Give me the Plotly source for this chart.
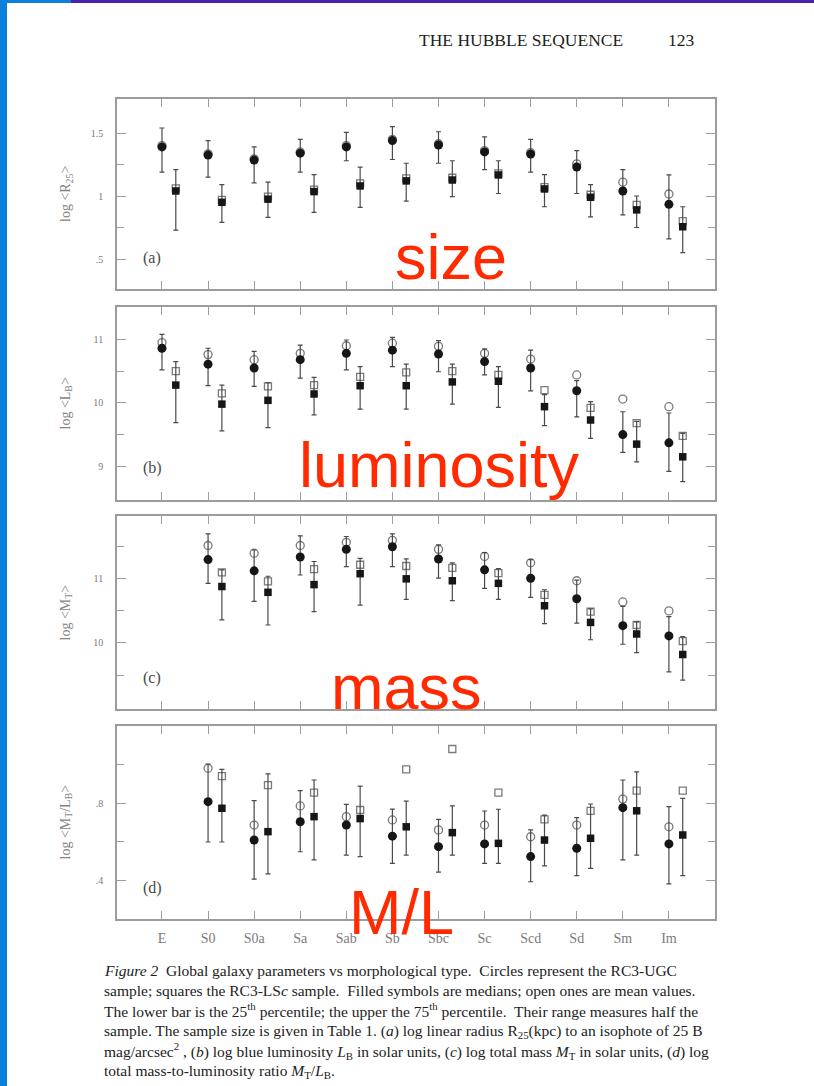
import numpy as np
import plotly.graph_objects as go
from plotly.subplots import make_subplots

# Morphological types along the x axis
types = ["E", "S0", "S0a", "Sa", "Sab", "Sb", "Sbc", "Sc", "Scd", "Sd", "Sm", "Im"]

# (a) log <R25>  -- circles: RC3-UGC, squares: RC3-LSc
a_med_c = [1.39, 1.325, 1.285, 1.34, 1.39, 1.44, 1.405, 1.35, 1.333, 1.23, 1.04, 0.934]
a_mean_c = [1.40, 1.335, 1.295, 1.35, 1.40, 1.45, 1.415, 1.36, 1.345, 1.255, 1.11, 1.016]
a_hi_c = [1.54, 1.44, 1.39, 1.45, 1.505, 1.55, 1.51, 1.47, 1.45, 1.36, 1.21, 1.167]
a_lo_c = [1.19, 1.15, 1.105, 1.19, 1.28, 1.29, 1.26, 1.21, 1.19, 1.02, 0.85, 0.66]
a_med_s = [1.04, 0.95, 0.975, 1.035, 1.08, 1.12, 1.127, 1.167, 1.056, 0.99, 0.89, 0.756]
a_mean_s = [1.06, 0.97, 0.995, 1.05, 1.10, 1.14, 1.145, 1.18, 1.07, 1.01, 0.93, 0.80]
a_hi_s = [1.21, 1.09, 1.11, 1.17, 1.23, 1.26, 1.28, 1.28, 1.17, 1.09, 1.00, 0.915]
a_lo_s = [0.73, 0.79, 0.83, 0.87, 0.91, 0.96, 0.995, 1.02, 0.915, 0.835, 0.75, 0.55]

# (b) log <L_B>
b_med_c = [10.86, 10.61, 10.55, 10.68, 10.78, 10.83, 10.77, 10.65, 10.55, 10.19, 9.50, 9.37]
b_mean_c = [10.95, 10.76, 10.68, 10.78, 10.90, 10.94, 10.89, 10.78, 10.69, 10.44, 10.06, 9.94]
b_hi_c = [11.08, 10.86, 10.81, 10.91, 10.99, 11.03, 10.98, 10.85, 10.83, 10.35, 9.86, 9.84]
b_lo_c = [10.52, 10.27, 10.26, 10.39, 10.52, 10.57, 10.49, 10.44, 10.19, 9.78, 9.22, 8.92]
b_med_s = [10.28, 9.98, 10.04, 10.14, 10.27, 10.27, 10.33, 10.34, 9.94, 9.73, 9.35, 9.15]
b_mean_s = [10.50, 10.15, 10.26, 10.28, 10.41, 10.48, 10.50, 10.44, 10.20, 9.92, 9.68, 9.48]
b_hi_s = [10.65, 10.28, 10.32, 10.40, 10.57, 10.61, 10.61, 10.57, 10.13, 10.02, 9.71, 9.52]
b_lo_s = [9.69, 9.56, 9.61, 9.81, 9.90, 9.90, 9.98, 9.93, 9.64, 9.44, 9.07, 8.76]

# (c) log <M_T>
c_med_c = [None, 11.30, 11.125, 11.34, 11.46, 11.50, 11.31, 11.14, 11.01, 10.69, 10.27, 10.11]
c_mean_c = [None, 11.52, 11.40, 11.52, 11.57, 11.60, 11.46, 11.35, 11.25, 10.97, 10.64, 10.50]
c_hi_c = [None, 11.70, 11.45, 11.67, 11.66, 11.70, 11.53, 11.41, 11.30, 10.98, 10.57, 10.41]
c_lo_c = [None, 10.93, 10.65, 11.06, 11.19, 11.19, 11.01, 10.85, 10.71, 10.31, 9.98, 9.55]
c_med_s = [None, 10.88, 10.79, 10.91, 11.08, 11.00, 10.97, 10.93, 10.58, 10.32, 10.14, 9.82]
c_mean_s = [None, 11.10, 10.96, 11.15, 11.22, 11.20, 11.17, 11.09, 10.75, 10.49, 10.28, 10.03]
c_hi_s = [None, 11.14, 11.04, 11.27, 11.32, 11.31, 11.25, 11.16, 10.83, 10.53, 10.33, 10.10]
c_lo_s = [None, 10.36, 10.28, 10.49, 10.59, 10.68, 10.66, 10.68, 10.30, 10.05, 9.85, 9.42]

# (d) log <M_T/L_B>
d_med_c = [None, 0.807, 0.61, 0.704, 0.687, 0.63, 0.576, 0.59, 0.525, 0.568, 0.776, 0.59]
d_mean_c = [None, 0.978, 0.687, 0.785, 0.73, 0.713, 0.662, 0.687, 0.627, 0.687, 0.82, 0.678]
d_hi_c = [None, 1.0, 0.812, 0.863, 0.793, 0.769, 0.716, 0.759, 0.662, 0.725, 0.918, 0.781]
d_lo_c = [None, 0.60, 0.41, 0.55, 0.533, 0.49, 0.445, 0.49, 0.396, 0.427, 0.508, 0.385]
d_med_s = [None, 0.773, 0.653, 0.73, 0.72, 0.678, 0.648, 0.593, 0.61, 0.619, 0.76, 0.636]
d_mean_s = [None, 0.938, 0.892, 0.853, 0.764, 0.973, 1.077, 0.853, 0.716, 0.76, 0.863, 0.863]
d_hi_s = [None, 0.973, 0.949, 0.918, 0.887, 0.81, 0.785, 0.768, 0.738, 0.795, 0.96, 0.824]
d_lo_s = [None, 0.60, 0.436, 0.508, 0.525, 0.533, 0.533, 0.49, 0.478, 0.465, 0.533, 0.427]

# Y-axis tick values / labels per panel
a_ticks, a_ticktext = [0.5, 1, 1.5], [".5", "1", "1.5"]
b_ticks, b_ticktext = [9, 10, 11], ["9", "10", "11"]
c_ticks, c_ticktext = [10, 11], ["10", "11"]
d_ticks, d_ticktext = [0.4, 0.8], [".4", ".8"]

W, H = 814, 1086


def fx(px):
    return px / W


def fy(py):
    return 1 - py / H


panels = [
    dict(med_c=a_med_c, mean_c=a_mean_c, hi_c=a_hi_c, lo_c=a_lo_c,
         med_s=a_med_s, mean_s=a_mean_s, hi_s=a_hi_s, lo_s=a_lo_s,
         ticks=a_ticks, ticktext=a_ticktext, minor=[0.75, 1.25],
         yrange=[0.262, 1.77], top=99, bottom=289,
         title="log &lt;R<sub>25</sub>&gt;", tag="(a)"),
    dict(med_c=b_med_c, mean_c=b_mean_c, hi_c=b_hi_c, lo_c=b_lo_c,
         med_s=b_med_s, mean_s=b_mean_s, hi_s=b_hi_s, lo_s=b_lo_s,
         ticks=b_ticks, ticktext=b_ticktext, minor=[9.5, 10.5],
         yrange=[8.47, 11.51], top=307, bottom=500,
         title="log &lt;L<sub>B</sub>&gt;", tag="(b)"),
    dict(med_c=c_med_c, mean_c=c_mean_c, hi_c=c_hi_c, lo_c=c_lo_c,
         med_s=c_med_s, mean_s=c_mean_s, hi_s=c_hi_s, lo_s=c_lo_s,
         ticks=c_ticks, ticktext=c_ticktext, minor=[9.5, 10.5, 11.5],
         yrange=[8.97, 11.98], top=516, bottom=709,
         title="log &lt;M<sub>T</sub>&gt;", tag="(c)"),
    dict(med_c=d_med_c, mean_c=d_mean_c, hi_c=d_hi_c, lo_c=d_lo_c,
         med_s=d_med_s, mean_s=d_mean_s, hi_s=d_hi_s, lo_s=d_lo_s,
         ticks=d_ticks, ticktext=d_ticktext, minor=[0.6, 1.0],
         yrange=[0.205, 1.195], top=726, bottom=919,
         title="log &lt;M<sub>T</sub>/L<sub>B</sub>&gt;", tag="(d)"),
]

SQUARE_SHIFT = 0.3
xpos = np.arange(len(types), dtype=float)

FRAME = "#9c9c9c"
INK = "#161616"
BAR = "#4a4a4a"
OPEN = "#7a7a7a"
SERIF = "Liberation Serif, Times New Roman, serif"

fig = make_subplots(rows=4, cols=1)

for r, p in enumerate(panels, start=1):
    med_c = np.array(p["med_c"], dtype=float)
    med_s = np.array(p["med_s"], dtype=float)
    hi_c = np.array(p["hi_c"], dtype=float)
    lo_c = np.array(p["lo_c"], dtype=float)
    hi_s = np.array(p["hi_s"], dtype=float)
    lo_s = np.array(p["lo_s"], dtype=float)

    # mean values: open symbols
    fig.add_trace(go.Scatter(
        x=xpos, y=p["mean_c"], mode="markers",
        marker=dict(symbol="circle-open", size=8, color=OPEN, line=dict(width=1.3)),
        showlegend=False, hoverinfo="skip"), row=r, col=1)
    fig.add_trace(go.Scatter(
        x=xpos + SQUARE_SHIFT, y=p["mean_s"], mode="markers",
        marker=dict(symbol="square-open", size=7, color=OPEN, line=dict(width=1.3)),
        showlegend=False, hoverinfo="skip"), row=r, col=1)

    # medians with 25th-75th percentile bars: filled symbols
    fig.add_trace(go.Scatter(
        x=xpos, y=med_c, mode="markers",
        marker=dict(symbol="circle", size=9, color=INK),
        error_y=dict(type="data", symmetric=False, array=hi_c - med_c,
                     arrayminus=med_c - lo_c, color=BAR, thickness=1.2, width=2.5),
        showlegend=False), row=r, col=1)
    fig.add_trace(go.Scatter(
        x=xpos + SQUARE_SHIFT, y=med_s, mode="markers",
        marker=dict(symbol="square", size=7.5, color=INK),
        error_y=dict(type="data", symmetric=False, array=hi_s - med_s,
                     arrayminus=med_s - lo_s, color=BAR, thickness=1.2, width=2.5),
        showlegend=False), row=r, col=1)

    last = r == len(panels)
    fig.update_xaxes(
        row=r, col=1, domain=[fx(117), fx(715)], range=[-0.976, 12.0],
        tickmode="array", tickvals=list(xpos), ticktext=types,
        showticklabels=last, ticks="inside", ticklen=8, tickwidth=1.3, tickcolor=FRAME,
        showline=True, linecolor=FRAME, linewidth=1.6, mirror="ticks",
        showgrid=False, zeroline=False,
        tickfont=dict(family=SERIF, size=14, color="#7a7a7a"),
        ticklabelstandoff=5,
    )
    fig.update_yaxes(
        row=r, col=1, domain=[fy(p["bottom"]), fy(p["top"])], range=p["yrange"],
        tickmode="array", tickvals=p["ticks"], ticktext=p["ticktext"],
        ticks="inside", ticklen=9, tickwidth=1.3, tickcolor=FRAME,
        minor=dict(tickmode="array", tickvals=p["minor"], ticks="inside",
                   ticklen=7, tickwidth=1.3, tickcolor=FRAME, showgrid=False),
        showline=True, linecolor=FRAME, linewidth=1.6, mirror="ticks",
        showgrid=False, zeroline=False,
        tickfont=dict(family=SERIF, size=10, color="#777777"),
        ticklabelstandoff=10,
    )

annotations = []
for p in panels:
    mid = (p["top"] + p["bottom"]) / 2
    annotations.append(dict(
        x=fx(66), y=fy(mid), xref="paper", yref="paper", text=p["title"],
        textangle=-90, showarrow=False, xanchor="center", yanchor="middle",
        font=dict(family=SERIF, size=14, color="#858585")))

# panel tags
for tag, ypx in zip([p["tag"] for p in panels], [258, 468, 678, 888]):
    annotations.append(dict(
        x=fx(152), y=fy(ypx), xref="paper", yref="paper", text=tag,
        showarrow=False, xanchor="center", yanchor="middle",
        font=dict(family=SERIF, size=16, color="#4a4a4a")))

# red headline words
RED = "#FF2A00"
SANS = "Liberation Sans, Arial, sans-serif"
for word, xc, yc in [("size", 451, 257), ("luminosity", 439, 465),
                     ("mass", 406, 687), ("M/L", 401, 912)]:
    annotations.append(dict(
        x=fx(xc), y=fy(yc), xref="paper", yref="paper", text=word,
        showarrow=False, xanchor="center", yanchor="middle",
        font=dict(family=SANS, size=63, color=RED)))

# running head
annotations.append(dict(x=fx(521), y=fy(40), xref="paper", yref="paper",
                        text="THE HUBBLE SEQUENCE", showarrow=False,
                        xanchor="center", yanchor="middle",
                        font=dict(family=SERIF, size=17.5, color="#1e1e1e")))
annotations.append(dict(x=fx(681), y=fy(40), xref="paper", yref="paper",
                        text="123", showarrow=False,
                        xanchor="center", yanchor="middle",
                        font=dict(family=SERIF, size=17.5, color="#1e1e1e")))

# figure caption
caption = [
    "<i>Figure 2</i>  Global galaxy parameters vs morphological type.  Circles represent the RC3-UGC",
    "sample; squares the RC3-LS<i>c</i> sample.  Filled symbols are medians; open ones are mean values.",
    "The lower bar is the 25<sup>th</sup> percentile; the upper the 75<sup>th</sup> percentile.  Their range measures half the",
    "sample. The sample size is given in Table 1. (<i>a</i>) log linear radius R<sub>25</sub>(kpc) to an isophote of 25 B",
    "mag/arcsec<sup>2</sup> , (<i>b</i>) log blue luminosity <i>L</i><sub>B</sub> in solar units, (<i>c</i>) log total mass <i>M</i><sub>T</sub> in solar units, (<i>d</i>) log",
    "total mass-to-luminosity ratio <i>M</i><sub>T</sub>/<i>L</i><sub>B</sub>.",
]
for line, ypx in zip(caption, [970, 990, 1010, 1031, 1051, 1071]):
    annotations.append(dict(x=fx(102), y=fy(ypx), xref="paper", yref="paper",
                            text=line, showarrow=False,
                            xanchor="left", yanchor="middle",
                            font=dict(family=SERIF, size=15.5, color="#222222")))

# slide frame: blue strip on the left, coloured band on top
shapes = [
    dict(type="rect", xref="paper", yref="paper", x0=0, x1=fx(7), y0=0, y1=1,
         fillcolor="#0A80DC", line=dict(width=0), layer="above"),
    dict(type="rect", xref="paper", yref="paper", x0=0, x1=fx(71), y0=fy(3), y1=1,
         fillcolor="#0A80DC", line=dict(width=0), layer="above"),
    dict(type="rect", xref="paper", yref="paper", x0=fx(71), x1=1, y0=fy(3), y1=1,
         fillcolor="#4A22AA", line=dict(width=0), layer="above"),
]

fig.update_layout(
    width=W, height=H, margin=dict(l=0, r=0, t=0, b=0),
    paper_bgcolor="white", plot_bgcolor="white",
    showlegend=False, annotations=annotations, shapes=shapes,
)

fig.write_html("out.html")
